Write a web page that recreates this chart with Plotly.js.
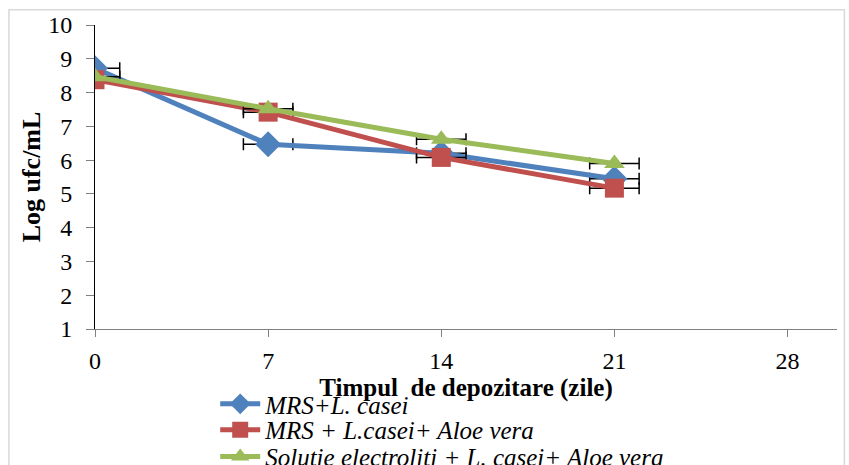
<!DOCTYPE html>
<html>
<head>
<meta charset="utf-8">
<script src="https://cdn.plot.ly/plotly-3.0.1.min.js"></script>
<style>
  html, body { margin: 0; padding: 0; background: #fff; }
  #chart { width: 849px; height: 465px; }
</style>
</head>
<body>
<div id="chart"></div>
<script>
// storage days
const days = [0, 7, 14, 21];
const dayTicks = [0, 7, 14, 21, 28];

// log cfu/mL per series
const mrsCasei = [8.72, 6.47, 6.2, 5.45];
const mrsCaseiAloe = [8.38, 7.42, 6.08, 5.17];
const electrolyteCaseiAloe = [8.47, 7.52, 6.62, 5.9];

// horizontal error bar size (days)
const dayError = 1;

const seriesNames = [
  'MRS+L. casei',
  'MRS + L.casei+ Aloe vera',
  'Solutie electroliti + L. casei+ Aloe vera'
];

function makeTrace(values, name, color, symbol, size, legendId) {
  return {
    x: days,
    y: values,
    name: '<i>' + name + '</i>',
    legend: legendId,
    type: 'scatter',
    mode: 'lines+markers',
    line: { color: color, width: 5 },
    marker: { color: color, symbol: symbol, size: size },
    error_x: {
      type: 'constant',
      value: dayError,
      symmetric: true,
      color: '#000',
      thickness: 1.5,
      width: 6
    }
  };
}

const data = [
  makeTrace(mrsCasei, seriesNames[0], '#4F81BD', 'diamond', 20, 'legend'),
  makeTrace(mrsCaseiAloe, seriesNames[1], '#C0504D', 'square', 19, 'legend2'),
  makeTrace(electrolyteCaseiAloe, seriesNames[2], '#9BBB59', 'triangle-up', 18, 'legend3')
];

const serif = 'Times New Roman';

// one legend per series so the rows sit as tight as in the original
function legendAt(y) {
  return {
    x: 0.162,
    xanchor: 'left',
    y: y,
    yanchor: 'middle',
    bgcolor: 'rgba(0,0,0,0)',
    font: { family: serif, size: 25 },
    itemwidth: 40
  };
}

const layout = {
  width: 849,
  height: 465,
  margin: { l: 95, r: 12, t: 25, b: 136, autoexpand: false },
  paper_bgcolor: '#fff',
  plot_bgcolor: '#fff',
  font: { family: serif, size: 24, color: '#000' },
  showlegend: true,
  xaxis: {
    range: [0, 30],
    tickvals: dayTicks,
    ticktext: dayTicks.map(String),
    ticks: 'outside',
    ticklen: 7,
    tickcolor: '#808080',
    ticklabelstandoff: 3,
    showline: true,
    linecolor: '#808080',
    linewidth: 1,
    showgrid: false,
    zeroline: false,
    automargin: false,
    tickfont: { family: serif, size: 24 },
    title: {
      text: '<b>Timpul  de depozitare (zile)</b>',
      font: { family: serif, size: 25 },
      standoff: 0
    }
  },
  yaxis: {
    range: [1, 10],
    dtick: 1,
    ticks: 'outside',
    ticklen: 8,
    tickcolor: '#808080',
    ticklabelstandoff: 9,
    showline: true,
    linecolor: '#000',
    linewidth: 1,
    showgrid: false,
    zeroline: false,
    automargin: false,
    tickfont: { family: serif, size: 24 },
    title: {
      text: '<b>Log ufc/mL</b>',
      font: { family: serif, size: 26 },
      standoff: 0
    }
  },
  legend: legendAt(-0.247),
  legend2: legendAt(-0.332),
  legend3: legendAt(-0.42),
  shapes: [{
    type: 'rect',
    xref: 'paper', yref: 'paper',
    x0: -0.116, x1: 1.01, y0: -0.6, y1: 1.05,
    line: { color: '#d9d9d9', width: 1.5 }
  }]
};

Plotly.newPlot('chart', data, layout, { displayModeBar: false, staticPlot: true });
</script>
</body>
</html>
